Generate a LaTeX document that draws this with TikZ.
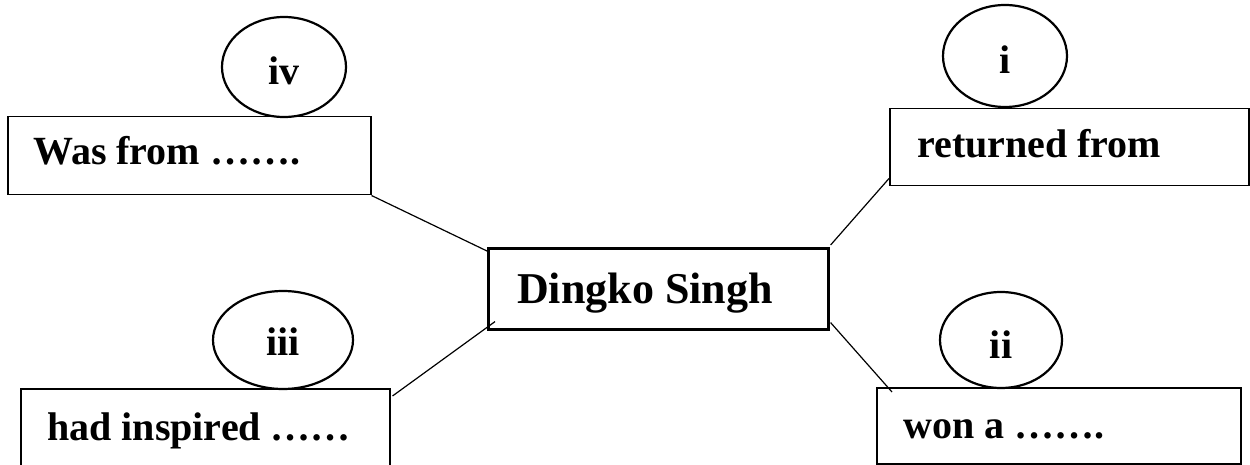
\documentclass[tikz,border=0pt]{standalone}
\usepackage{fontspec}
\setmainfont{Liberation Serif}
\usetikzlibrary{shapes.geometric,calc}
\begin{document}
\begin{tikzpicture}[x=1pt,y=-1pt,
  box/.style={draw, line width=1.5pt, rectangle, inner sep=0pt, anchor=north west},
  hub/.style={draw, line width=2.6pt, rectangle, inner sep=0pt, anchor=north west},
  oval/.style={draw, ellipse, line width=2.2pt, inner sep=0pt, text height=36pt, text depth=0pt, font=\fontsize{40}{40}\selectfont\bfseries},
  lbl/.style={inner sep=0pt, anchor=base west, font=\fontsize{40}{40}\selectfont\bfseries},
  biglbl/.style={inner sep=0pt, anchor=base west, font=\fontsize{44}{44}\selectfont\bfseries},
  link/.style={line width=1.2pt}]
\useasboundingbox (0,0) rectangle (1250,465);
\clip (0,0) rectangle (1250,465);
% boxes
\node[box, minimum width=363, minimum height=78] (b4) at (7,116) {};
\node[box, minimum width=359, minimum height=77] (b1) at (889,108) {};
\node[hub, minimum width=340, minimum height=81] (c) at (487,247) {};
\node[box, minimum width=369, minimum height=100] (b3) at (20,388) {};
\node[box, minimum width=364, minimum height=76] (b2) at (876,387) {};
% texts
\node[lbl] (t4) at (33,165) {Was from …….};
\node[lbl] (t1) at (917,158) {returned from};
\node[biglbl] (tc) at (517,303) {Dingko Singh};
\node[lbl] (t3) at (47,440) {had inspired ……};
\node[lbl] (t2) at (903,438) {won a …….};
% ovals
\node[oval, minimum width=124, minimum height=100] (e4) at (284,67) {iv};
\node[oval, minimum width=124, minimum height=102] (e1) at (1005,56) {i};
\node[oval, minimum width=140, minimum height=98, text height=30pt] (e3) at (283,340) {iii};
\node[oval, minimum width=122, minimum height=96] (e2) at (1001,340) {ii};
% connectors
\draw[link] (b4.south east) -- ($(c.north west)+(0,4)$);
\draw[link] ($(c.north east)+(1,-2)$) -- ($(b1.south west)+(0,-8)$);
\draw[link] ($(c.south west)+(8,-9)$) -- ($(b3.north east)+(2,8)$);
\draw[link] ($(c.south east)+(1,-8)$) -- ($(b2.north west)+(16,5)$);
\end{tikzpicture}
\end{document}
